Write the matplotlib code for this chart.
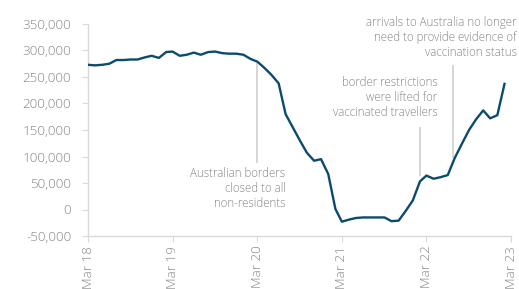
import numpy as np
import pandas as pd
import matplotlib
matplotlib.use("Agg")
import matplotlib.pyplot as plt
import matplotlib.dates as mdates

# monthly arrivals (rolling), Mar 2018 - Feb 2023
months = pd.date_range("2018-03-01", periods=60, freq="MS")
arrivals = [273000, 272000, 273000, 275000, 282000, 282000, 283000, 283000, 287000, 290000,
            286000, 297000, 298000, 290000, 292000, 296000, 292000, 297000, 298000, 295000,
            294000, 294000, 292000, 284000, 279000, 267000, 254000, 238000, 180000, 155000,
            130000, 107000, 92000, 95000, 67000, 1000, -23000, -19000, -16000, -15000,
            -15000, -15000, -15000, -22000, -21000, -3000, 17000, 53000, 64000, 58000,
            61000, 65000, 97000, 124000, 150000, 170000, 187000, 172000, 178000, 237000]

yticks = [-50000, 0, 50000, 100000, 150000, 200000, 250000, 300000, 350000]
xticks = pd.date_range("2018-03-01", periods=6, freq="12MS")

# annotations: (line date, line top, line bottom, text anchor date, text top, label)
notes = [
    ("2020-03-01", 280000, 87000, "2020-07-01", 81000,
     "Australian borders\nclosed to all\nnon-residents"),
    ("2022-02-01", 155000, 64000, "2022-04-18", 252000,
     "border restrictions\nwere lifted for\nvaccinated travellers"),
    ("2022-06-22", 273000, 97000, "2023-03-26", 365000,
     "arrivals to Australia no longer\nneed to provide evidence of\nvaccination status"),
]

plt.rcParams["font.family"] = ["Open Sans", "DejaVu Sans"]
grey = "#858585"
line_grey = "#cccccc"

fig = plt.figure(figsize=(5.19, 2.89), dpi=100)
ax = fig.add_axes([88/519, 53/289, (511-88)/519, (236-24)/289])

ax.plot(months, arrivals, color="#0c4a6e", lw=1.7, solid_joinstyle="round", zorder=3)

for ldate, ytop, ybot, tdate, ttop, label in notes:
    ax.vlines(pd.Timestamp(ldate), ybot, ytop, color=line_grey, lw=1.1, zorder=2)
    ax.text(pd.Timestamp(tdate), ttop, label, ha="right", va="top", color=grey,
            fontsize=8.3, fontweight="light", linespacing=1.2, clip_on=False)

ax.set_xlim(pd.Timestamp("2018-03-01"), pd.Timestamp("2023-03-01"))
ax.set_ylim(-50000, 350000)
ax.set_xticks(xticks)
ax.xaxis.set_major_formatter(mdates.DateFormatter("%b %y"))
ax.set_yticks(yticks)
ax.set_yticklabels([f"{v:,}" for v in yticks])

for s in ["top", "right"]:
    ax.spines[s].set_visible(False)
for s in ["left", "bottom"]:
    ax.spines[s].set_color("#d9d9d9")
    ax.spines[s].set_linewidth(1.0)

ax.tick_params(axis="x", rotation=90, colors=grey, labelsize=9.6, length=4, color="#d9d9d9", pad=3)
ax.tick_params(axis="y", colors=grey, labelsize=9.6, length=4, color="#d9d9d9", pad=8)
for lab in ax.get_xticklabels() + ax.get_yticklabels():
    lab.set_fontweight("light")
ax.patch.set_alpha(0)

fig.savefig("out.png", dpi=100)
